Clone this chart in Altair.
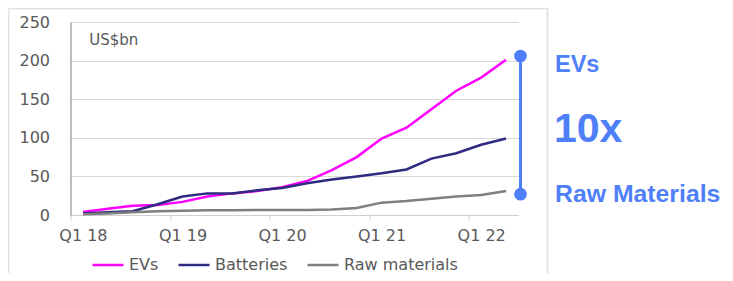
import altair as alt
import pandas as pd

# ---- data ----
quarters = ["Q1 18", "Q2 18", "Q3 18", "Q4 18",
            "Q1 19", "Q2 19", "Q3 19", "Q4 19",
            "Q1 20", "Q2 20", "Q3 20", "Q4 20",
            "Q1 21", "Q2 21", "Q3 21", "Q4 21",
            "Q1 22", "Q2 22"]
evs = [4, 8, 12, 13, 17, 24, 28, 31, 36, 44, 58, 75, 99, 113, 137, 161, 178, 201]
batteries = [2, 3.5, 5, 14, 24, 28, 28, 32, 35, 41, 46, 50, 54, 59, 73, 80, 91, 99]
raw_materials = [1, 2, 3.5, 5, 5.5, 6, 6, 6.5, 6.5, 6.5, 7, 9, 16, 18, 21, 24, 26, 31]
series_names = ["EVs", "Batteries", "Raw materials"]
series_colors = ["#FF00FF", "#2E2A80", "#7F7F7F"]
y_ticks = [0, 50, 100, 150, 200, 250]
x_tick_bounds = [-0.5, 3.5, 7.5, 11.5, 15.5]
annotation_ends = [206, 27]
unit_label = "US$bn"
ann_texts = ["EVs", "10x", "Raw Materials"]

BLUE = "#4F80FA"
GREY_TXT = "#595959"
FONT = "DejaVu Sans"

rows = []
for name, vals in zip(series_names, [evs, batteries, raw_materials]):
    for i, (q, v) in enumerate(zip(quarters, vals)):
        rows.append({"idx": i, "quarter": q, "series": name, "value": v})
df = pd.DataFrame(rows)

W, H = 448, 193
band = W / len(quarters)
label_js = "[" + ",".join("'" + q + "'" for q in quarters) + "][datum.value + 0.5]"

y_scale = alt.Scale(domain=[0, 250], nice=False)
y_axis = alt.Axis(
    values=y_ticks, grid=True, gridColor="#D9D9D9", gridWidth=1,
    labelOverlap=False, labelFlush=False,
    tickSize=0, domainColor="#A6A6A6", domainWidth=1.5, title=None,
    labelFont=FONT, labelFontSize=16, labelColor=GREY_TXT, labelPadding=21,
)

x_enc = alt.X(
    "idx:Q",
    scale=alt.Scale(domain=[-0.5, len(quarters) - 0.5], nice=False, zero=False),
    axis=alt.Axis(
        values=x_tick_bounds, labelExpr=label_js, labelOffset=band / 2,
        labelFlush=False, labelOverlap=False, grid=False, title=None,
        tickSize=5, tickColor="#D0D0D0", domainColor="#D0D0D0", domainWidth=1.2,
        labelFont=FONT, labelFontSize=16, labelColor=GREY_TXT, labelPadding=7,
    ),
)

lines = alt.Chart(df).mark_line(strokeWidth=2.5).encode(
    x=x_enc,
    y=alt.Y("value:Q", scale=y_scale, axis=y_axis),
    color=alt.Color(
        "series:N",
        scale=alt.Scale(domain=series_names, range=series_colors),
        sort=series_names,
        legend=alt.Legend(
            orient="none", legendX=20.5, legendY=226, direction="horizontal",
            title=None, symbolType="stroke", symbolSize=961, symbolStrokeWidth=2.5,
            labelFont=FONT, labelFontSize=16, labelColor=GREY_TXT,
            labelOffset=4, columnPadding=14, padding=0,
        ),
    ),
)

ann_rule_df = pd.DataFrame({"value": [annotation_ends[0]], "bottom": [annotation_ends[1]]})
ann_pts_df = pd.DataFrame({"value": annotation_ends})

ann_rule = alt.Chart(ann_rule_df).mark_rule(color=BLUE, strokeWidth=3).encode(
    x=alt.value(450), y=alt.Y("value:Q", scale=y_scale, axis=y_axis), y2="bottom:Q"
)
ann_pts = alt.Chart(ann_pts_df).mark_circle(color=BLUE, opacity=1, size=160).encode(
    x=alt.value(450), y=alt.Y("value:Q", scale=y_scale, axis=y_axis)
)

def txt(s, x, y, size, color, weight="normal", font=FONT):
    return alt.Chart(pd.DataFrame({"t": [s]})).mark_text(
        align="left", baseline="alphabetic", fontSize=size, color=color,
        fontWeight=weight, font=font,
    ).encode(x=alt.value(x), y=alt.value(y), text="t:N")

unit = txt(unit_label, 18.8, 23, 15, GREY_TXT)
t_ev = txt(ann_texts[0], 484.5, 50.3, 23.5, BLUE, "bold", "Liberation Sans")
t_10 = txt(ann_texts[1], 483.5, 119.7, 41, BLUE, "bold", "Liberation Sans")
t_raw = txt(ann_texts[2], 484.5, 179.7, 24.8, BLUE, "bold", "Liberation Sans")

divider = alt.Chart(pd.DataFrame({"t": [0]})).mark_rule(color="#E3E3E3", strokeWidth=2).encode(
    x=alt.value(477), y=alt.value(-30), y2=alt.value(300)
)
frame = alt.Chart(pd.DataFrame({"t": [0]})).mark_rule(color="#E3E3E3", strokeWidth=1.5).encode(
    x=alt.value(-61.8), y=alt.value(-14), y2=alt.value(300)
)
frame_top = alt.Chart(pd.DataFrame({"t": [0]})).mark_rule(color="#E3E3E3", strokeWidth=1.5).encode(
    x=alt.value(-62), x2=alt.value(477), y=alt.value(-13.3)
)

chart = alt.layer(
    frame, frame_top, divider, lines, ann_rule, ann_pts, unit, t_ev, t_10, t_raw
).properties(
    width=W, height=H,
    autosize=alt.AutoSizeParams(type="none"),
    padding={"left": 62.5, "top": 14, "right": 206.5, "bottom": 58},
).configure_view(stroke=None)

chart.save("out.html", embed_options={"renderer": "svg", "actions": False})
